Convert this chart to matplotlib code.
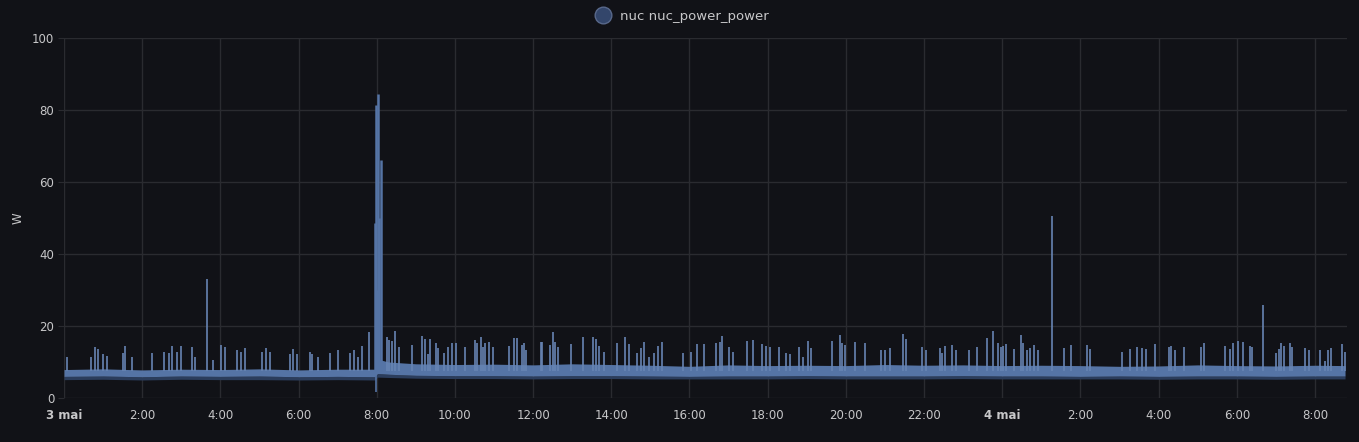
from matplotlib import pyplot as plt
from matplotlib.lines import Line2D
import numpy as np

# time in hours since 3 mai 00:00, power in W

# noise band of the series (upper / lower edge)
band_t = [0, 1, 2, 3, 4, 5, 6, 7, 7.95, 8.02, 8.3, 9, 10, 11, 12, 13, 14, 15, 16, 17, 18, 19, 20,
          21, 22, 23, 24, 25, 26, 27, 28, 29, 30, 31, 32, 32.77]
band_hi = [7.9, 8.1, 7.8, 8.0, 7.9, 8.1, 7.8, 8.0, 8.0, 10.8, 10.0, 9.5, 9.3, 9.4, 9.2, 9.5, 9.3,
           9.1, 8.8, 9.2, 9.0, 9.1, 9.0, 9.3, 9.1, 9.2, 9.0, 9.1, 9.0, 8.8, 8.9, 9.2, 9.0, 8.9, 9.1, 9.0]
band_lo = [6.0, 6.1, 5.9, 6.1, 6.0, 6.1, 5.9, 6.0, 5.9, 6.8, 6.6, 6.3, 6.2, 6.2, 6.1, 6.2, 6.2,
           6.1, 6.0, 6.1, 6.1, 6.2, 6.1, 6.1, 6.1, 6.2, 6.1, 6.1, 6.0, 6.1, 6.0, 6.1, 6.1, 6.0, 6.1, 6.1]
band_min = [5.1, 5.2, 5.0, 5.2, 5.1, 5.1, 5.0, 5.1, 5.0, 5.8, 5.7, 5.5, 5.4, 5.4, 5.3, 5.4, 5.4,
            5.3, 5.3, 5.3, 5.3, 5.4, 5.3, 5.3, 5.3, 5.4, 5.3, 5.3, 5.3, 5.3, 5.2, 5.3, 5.3, 5.2, 5.3, 5.3]

# spikes (time, peak)
spike_t = [0.07, 0.68, 0.79, 0.88, 0.99, 1.11, 1.52, 1.57, 1.73, 2.26, 2.57, 2.69, 2.77, 2.90, 2.99,
           3.27, 3.35, 3.66, 3.80, 4.01, 4.12, 4.43, 4.54, 4.63, 5.06, 5.16, 5.27, 5.78, 5.87, 5.97,
           6.29, 6.35, 6.50, 6.80, 7.02, 7.31, 7.42, 7.53, 7.63, 7.80,
           8.25, 8.31, 8.38, 8.46, 8.57, 8.89, 9.17, 9.23, 9.30, 9.36, 9.51, 9.57, 9.73, 9.83, 9.93,
           10.03, 10.26, 10.51, 10.57, 10.66, 10.72, 10.78, 10.88, 10.98, 11.38, 11.51, 11.60, 11.71,
           11.76, 11.82, 12.19, 12.24, 12.43, 12.50, 12.56, 12.64, 12.97, 13.28, 13.54, 13.60, 13.69,
           13.81, 14.14, 14.35, 14.45, 14.65, 14.75, 14.83, 14.97, 15.09, 15.20, 15.31, 15.84, 16.03,
           16.20, 16.38, 16.69, 16.78, 16.84, 17.01, 17.12, 17.48, 17.63, 17.86, 17.95, 18.07, 18.29,
           18.48, 18.58, 18.80, 18.91, 19.02, 19.12, 19.65, 19.86, 19.91, 19.97, 20.23, 20.49, 20.91,
           21.00, 21.13, 21.47, 21.54, 21.96, 22.06, 22.40, 22.46, 22.53, 22.72, 22.83, 23.15, 23.36,
           23.61, 23.77, 23.88, 23.96, 24.03, 24.10, 24.30, 24.47, 24.53, 24.63, 24.72, 24.82, 24.92,
           25.27, 25.58, 25.75, 26.16, 26.24, 27.07, 27.26, 27.46, 27.58, 27.69, 27.90, 28.26, 28.33,
           28.43, 28.64, 29.08, 29.16, 29.69, 29.82, 29.91, 30.02, 30.15, 30.35, 30.40, 30.67, 31.00,
           31.07, 31.13, 31.20, 31.37, 31.41, 31.74, 31.84, 32.14, 32.25, 32.33, 32.40, 32.68, 32.76]
spike_v = [11.5, 11.5, 14.3, 13.5, 12.1, 11.7, 12.4, 14.4, 11.5, 12.6, 12.9, 12.6, 14.4, 12.9, 14.4,
           14.3, 11.3, 33.0, 10.5, 14.8, 14.1, 13.2, 12.9, 13.8, 12.9, 14.0, 12.9, 12.1, 13.6, 12.1,
           12.9, 12.3, 11.5, 12.4, 13.3, 12.4, 13.3, 11.5, 14.5, 18.4,
           17.0, 16.1, 15.9, 18.7, 14.1, 14.8, 17.3, 16.3, 12.1, 16.3, 15.4, 13.8, 12.6, 14.1, 15.4,
           15.2, 14.1, 16.0, 15.4, 16.9, 14.3, 15.2, 15.6, 14.1, 14.5, 16.6, 16.6, 14.8,
           15.4, 13.3, 15.6, 15.6, 14.8, 18.4, 15.6, 14.3, 15.0, 17.0, 16.9, 16.3, 14.5,
           12.9, 15.2, 17.0, 15.0, 12.4, 13.8, 15.6, 11.5, 12.4, 14.5, 15.6, 12.6, 12.9,
           15.0, 15.0, 15.4, 15.6, 17.1, 14.3, 12.9, 15.9, 16.1, 15.0, 14.5, 14.3, 14.3,
           12.6, 12.1, 14.3, 11.5, 15.9, 13.8, 15.9, 17.5, 15.2, 14.8, 15.6, 15.4, 13.3,
           13.2, 13.8, 17.7, 16.3, 14.3, 13.3, 13.8, 12.6, 14.5, 14.8, 13.3, 13.2, 14.1,
           16.6, 18.7, 15.2, 14.1, 14.5, 14.9, 13.6, 17.5, 15.2, 13.3, 13.8, 14.8, 13.2,
           50.5, 13.8, 14.8, 14.8, 13.6, 12.9, 13.6, 14.1, 14.0, 13.6, 15.0, 14.3, 14.5,
           13.2, 14.3, 14.3, 15.4, 14.5, 13.6, 15.4, 15.9, 15.6, 14.5, 14.1, 25.8, 12.6,
           13.6, 15.4, 14.5, 15.4, 14.3, 13.8, 13.3, 13.2, 10.2, 13.3, 14.0, 15.0, 12.9]

# burst around 8:00
burst_t = [7.95, 7.97, 8.00, 8.04, 8.07, 8.12]
burst_v = [48.5, 81.5, 30.0, 84.5, 50.0, 66.0]
dip_t = 7.985
dip_v = 1.8

xticks = list(range(0, 33, 2))
xlabels = ["3 mai", "2:00", "4:00", "6:00", "8:00", "10:00", "12:00", "14:00", "16:00",
           "18:00", "20:00", "22:00", "4 mai", "2:00", "4:00", "6:00", "8:00"]
yticks = [0, 20, 40, 60, 80, 100]

bg = "#111217"
line_col = "#5574a5"
spike_col = "#6784b3"
grid_col = "#2a2b30"
text_col = "#c7c7c9"

fig = plt.figure(figsize=(13.59, 4.42), dpi=100, facecolor=bg)
ax = fig.add_axes([64 / 1359, 44 / 442, 1283 / 1359, 360 / 442], facecolor=bg)

ax.fill_between(band_t, band_min, band_lo, color="#2b3d5c", lw=0)
ax.fill_between(band_t, band_lo, band_hi, color=line_col, lw=0)
ax.vlines(spike_t, 7.5, spike_v, color=spike_col, lw=1.2)
ax.vlines(burst_t, 7.5, burst_v, color=line_col, lw=1.8)
ax.vlines([dip_t], dip_v, 6.5, color=line_col, lw=1.2)

ax.set_xlim(0, 32.82)
ax.set_ylim(0, 100)
ax.set_xticks(xticks)
ax.set_xticklabels(xlabels)
for lab in ax.get_xticklabels():
    if "mai" in lab.get_text():
        lab.set_fontweight("bold")
ax.set_yticks(yticks)
ax.grid(True, color=grid_col, lw=1)
ax.set_axisbelow(True)
for s in ax.spines.values():
    s.set_visible(False)
ax.tick_params(axis="x", colors=text_col, labelsize=8.5, length=0, pad=8)
ax.tick_params(axis="y", colors=text_col, labelsize=8.5, length=4, color=grid_col, pad=3)
ax.set_ylabel("W", color=text_col, fontsize=8.5, labelpad=5)

handle = Line2D([], [], ls="none", marker="o", markersize=12,
                markerfacecolor="#33466b", markeredgecolor="#58688a")
fig.legend([handle], ["nuc nuc_power_power"], loc="upper center", bbox_to_anchor=(0.5, 1.005),
           frameon=False, labelcolor=text_col, fontsize=9.5, handletextpad=0.3)

plt.savefig("out.png", facecolor=bg)
